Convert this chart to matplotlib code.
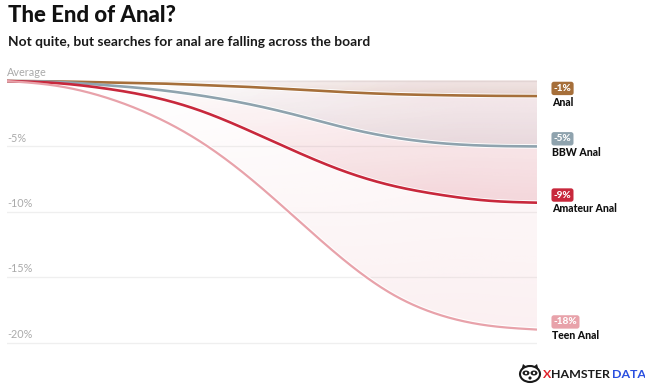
import numpy as np
import matplotlib
matplotlib.use("Agg")
import matplotlib.pyplot as plt
from matplotlib.patches import Circle, Polygon, Ellipse

# ---- data ----
periods = list(range(12))
anal = [0, -0.03, -0.1, -0.17, -0.3, -0.45, -0.65, -0.85, -1.0, -1.08, -1.13, -1.15]
bbw_anal = [0, -0.06, -0.3, -0.62, -1.1, -1.75, -2.6, -3.55, -4.3, -4.75, -4.95, -5.0]
amateur_anal = [0, -0.15, -0.55, -1.2, -2.25, -3.75, -5.4, -6.9, -8.0, -8.7, -9.15, -9.3]
teen_anal = [0, -0.35, -1.2, -2.6, -4.6, -7.3, -10.5, -13.7, -16.3, -17.9, -18.7, -19.0]
series_names = ["Anal", "BBW Anal", "Amateur Anal", "Teen Anal"]
series_badges = ["-1%", "-5%", "-9%", "-18%"]
series_colors = ["#a66f3a", "#8fa3ae", "#c8283c", "#e8a2aa"]
ytick_vals = [0, -5, -10, -15, -20]
ytick_labels = ["Average", "-5%", "-10%", "-15%", "-20%"]

series_values = [anal, bbw_anal, amateur_anal, teen_anal]


def natural_spline(x, y, xn):
    x = np.asarray(x, float); y = np.asarray(y, float)
    n = len(x); h = np.diff(x)
    A = np.zeros((n, n)); b = np.zeros(n)
    A[0, 0] = 1; A[-1, -1] = 1
    for i in range(1, n - 1):
        A[i, i - 1] = h[i - 1]; A[i, i] = 2 * (h[i - 1] + h[i]); A[i, i + 1] = h[i]
        b[i] = 3 * ((y[i + 1] - y[i]) / h[i] - (y[i] - y[i - 1]) / h[i - 1])
    c = np.linalg.solve(A, b)
    bb = (y[1:] - y[:-1]) / h - h * (2 * c[:-1] + c[1:]) / 3
    d = (c[1:] - c[:-1]) / (3 * h)
    idx = np.clip(np.searchsorted(x, xn) - 1, 0, n - 2)
    t = xn - x[idx]
    return y[idx] + bb[idx] * t + c[idx] * t**2 + d[idx] * t**3


FONT = ["Lato", "DejaVu Sans"]

fig = plt.figure(figsize=(6.45, 3.87), dpi=100)
ax = fig.add_axes([7 / 645, 1 - 350.5 / 387, 530 / 645, 280.6 / 387])
ax.set_xlim(periods[0], periods[-1])
ax.set_ylim(-20.6, 0.85)
ax.axis("off")

# grid lines + labels
for v, lab in zip(ytick_vals, ytick_labels):
    ax.axhline(v, color="#efefef", lw=0.9, zorder=0)
    ax.annotate(lab, xy=(0, v), xycoords=("axes fraction", "data"),
                xytext=(0, 2), textcoords="offset points",
                fontsize=7.8, color="#aaaaaa", ha="left", va="bottom",
                family=FONT)

xs = np.linspace(periods[0], periods[-1], 600)
ys_grid = np.linspace(-20.6, 0.85, 500)
XX, YY = np.meshgrid(xs, ys_grid)
fx = np.clip((xs - 1.0) / 9.0, 0, 1)
fx = fx * fx * (3 - 2 * fx)

curves = []
for vals, col in zip(series_values, series_colors):
    yc = np.minimum(natural_spline(periods, vals, xs), 0)
    curves.append(yc)
    rgb = np.array(matplotlib.colors.to_rgb(col))
    L = yc[None, :]
    ratio = np.where(L < -0.05, YY / np.minimum(L, -1e-6), 0)
    inside = (YY >= L) & (YY <= 0)
    alpha = np.where(inside, 0.16 * fx[None, :] * (0.35 + 0.65 * np.clip(ratio, 0, 1) ** 1.5), 0)
    img = np.zeros(XX.shape + (4,))
    img[..., :3] = rgb
    img[..., 3] = alpha
    ax.imshow(img, extent=(xs[0], xs[-1], ys_grid[0], ys_grid[-1]), origin="lower",
              aspect="auto", interpolation="bilinear", zorder=1)

for yc, col in zip(curves, series_colors):
    ax.plot(xs, yc, color="white", lw=3.2, zorder=2, solid_capstyle="butt")
for yc, col, lw in zip(curves, series_colors, [1.9, 1.9, 1.9, 1.6]):
    ax.plot(xs, yc, color=col, lw=lw, zorder=3, solid_capstyle="butt")

# end labels
for vals, name, badge, col in zip(series_values, series_names, series_badges, series_colors):
    ax.annotate(badge, xy=(periods[-1], vals[-1]), xytext=(12, 5.5), textcoords="offset points",
                fontsize=7.2, fontweight="black", color="white", ha="left", va="center",
                family=FONT,
                bbox=dict(boxstyle="round,pad=0.22,rounding_size=0.25", fc=col, ec="none"),
                annotation_clip=False)
    ax.annotate(name, xy=(periods[-1], vals[-1]), xytext=(11, -4.5), textcoords="offset points",
                fontsize=7.6, fontweight="black", color="#111111", ha="left", va="center",
                family=FONT, annotation_clip=False)

fig.text(8 / 645, 1 - 16 / 387, "The End of Anal?", fontsize=16, fontweight="black",
         color="#111111", ha="left", va="center", family=FONT)
fig.text(8 / 645, 1 - 42 / 387, "Not quite, but searches for anal are falling across the board",
         fontsize=9.9, fontweight="bold", color="#1a1a1a", ha="left", va="center", family=FONT)

# logo
LY = 1 - 374 / 387
t1 = fig.text(543 / 645, LY, "X", fontsize=8.9, fontweight="bold", color="#e0222b",
              ha="left", va="center", family=FONT)
t2 = fig.text(0, 0, "HAMSTER", fontsize=8.9, fontweight="bold", color="#1a1a1a",
              ha="left", va="center", family=FONT)
t3 = fig.text(0, 0, "DATA", fontsize=8.9, fontweight="bold", color="#2a4fe0",
              ha="left", va="center", family=FONT)
fig.canvas.draw()
r = fig.canvas.get_renderer()
bb1 = t1.get_window_extent(r)
t2.set_position((bb1.x1 / 645, LY))
fig.canvas.draw()
bb2 = t2.get_window_extent(r)
t3.set_position((bb2.x1 / 645 + 2 / 645, LY))

# simple raccoon-like icon
cx, cy = 530, 387 - 374
icon = [
    Polygon([[cx - 9, cy + 3], [cx - 7, cy + 10], [cx - 2, cy + 6]], closed=True, fc="#1a1a1a",
            transform=None),
    Polygon([[cx + 9, cy + 3], [cx + 7, cy + 10], [cx + 2, cy + 6]], closed=True, fc="#1a1a1a",
            transform=None),
    Ellipse((cx, cy), 20, 16, fc="white", ec="#1a1a1a", lw=1.5, transform=None),
    Ellipse((cx - 4, cy + 1), 7, 5, fc="#1a1a1a", transform=None),
    Ellipse((cx + 4, cy + 1), 7, 5, fc="#1a1a1a", transform=None),
    Circle((cx - 4, cy + 1), 1.2, fc="white", transform=None),
    Circle((cx + 4, cy + 1), 1.2, fc="white", transform=None),
    Circle((cx, cy - 4), 1.6, fc="#1a1a1a", transform=None),
]
for p in icon:
    fig.patches.append(p)
    p.set_figure(fig)

fig.savefig("out.png", dpi=100, facecolor="white")
